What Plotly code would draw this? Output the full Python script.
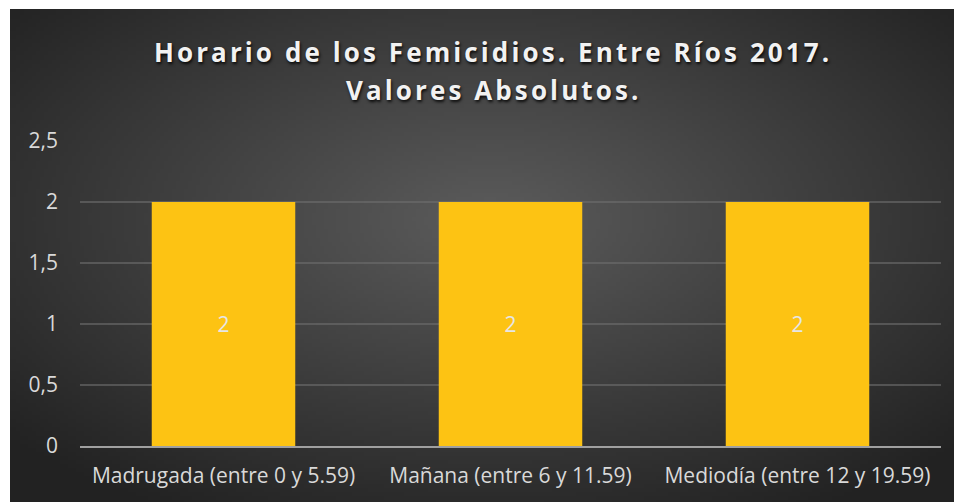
import base64
import struct
import zlib

import numpy as np
import plotly.graph_objects as go

# ---- data ----
categories = [
    "Madrugada (entre 0 y 5.59)",
    "Mañana (entre 6 y 11.59)",
    "Mediodía (entre 12 y 19.59)",
]
values = [2, 2, 2]
y_tickvals = [0, 0.5, 1, 1.5, 2, 2.5]
y_ticktext = ["0", "0,5", "1", "1,5", "2", "2,5"]
title_lines = ["Horario de los Femicidios. Entre Ríos 2017.", "Valores Absolutos."]


# ---- radial gradient background as PNG ----
def gradient_png(w, h):
    yy, xx = np.mgrid[0:h, 0:w].astype(float)
    cx, cy = (w - 1) / 2, (h - 1) * 0.42
    dx = (xx - cx) / (w / 2)
    dy = (yy - cy) / (h / 2)
    t = np.clip(np.sqrt(dx ** 2 + dy ** 2) / 1.35, 0, 1)
    c0 = np.array([0x5c, 0x5c, 0x5c], float)
    c1 = np.array([0x22, 0x22, 0x22], float)
    img = (c0[None, None, :] * (1 - t[..., None]) + c1[None, None, :] * t[..., None]).astype(np.uint8)
    raw = b"".join(b"\x00" + img[r].tobytes() for r in range(h))

    def chunk(tag, data):
        c = struct.pack(">I", len(data)) + tag + data
        return c + struct.pack(">I", zlib.crc32(tag + data) & 0xFFFFFFFF)

    png = b"\x89PNG\r\n\x1a\n"
    png += chunk(b"IHDR", struct.pack(">IIBBBBB", w, h, 8, 2, 0, 0, 0))
    png += chunk(b"IDAT", zlib.compress(raw, 9))
    png += chunk(b"IEND", b"")
    return "data:image/png;base64," + base64.b64encode(png).decode()


W, H = 962, 502
ml, mr, mt, mb = 72, 29, 133, 64
pw, ph = W - ml - mr, H - mt - mb
bg_left, bg_right, bg_top, bg_bottom = 2, 962, 1, 502
x0 = (bg_left - ml) / pw
x1 = (bg_right - ml) / pw
y0 = (H - mb - bg_top) / ph
y1 = (H - mb - bg_bottom) / ph


def paper_y(px):
    return (H - mb - px) / ph


fig = go.Figure()
fig.add_trace(
    go.Bar(
        x=categories,
        y=values,
        marker=dict(color="#FDC313", line=dict(width=0)),
        text=[str(v) for v in values],
        textposition="inside",
        insidetextanchor="middle",
        textfont=dict(family="Open Sans", size=21, color="#e6e6e6"),
        hoverinfo="x+y",
    )
)

title_font = dict(
    family="Open Sans",
    size=26,
    color="#f2f2f2",
    weight="bold",
    shadow="1px 2px 3px rgba(0,0,0,0.85)",
)
for line, ypx, xs in zip(title_lines, [44, 82], [-18, -17]):
    fig.add_annotation(
        text='<span style="letter-spacing:3.1px">' + line + "</span>",
        xref="paper",
        yref="paper",
        x=0.5,
        y=paper_y(ypx),
        xanchor="center",
        yanchor="middle",
        xshift=xs,
        showarrow=False,
        font=title_font,
    )

fig.update_layout(
    width=W,
    height=H,
    margin=dict(l=ml, r=mr, t=mt, b=mb),
    paper_bgcolor="white",
    plot_bgcolor="rgba(0,0,0,0)",
    bargap=0.5,
    showlegend=False,
    images=[
        dict(
            source=gradient_png(240, 124),
            xref="paper",
            yref="paper",
            x=x0,
            y=y0,
            sizex=x1 - x0,
            sizey=y0 - y1,
            xanchor="left",
            yanchor="top",
            sizing="stretch",
            layer="below",
        )
    ],
    xaxis=dict(
        showgrid=False,
        showline=True,
        linecolor="#a0a0a0",
        linewidth=2,
        ticks="",
        tickfont=dict(family="Open Sans", size=21, color="#d9d9d9"),
        ticklabelstandoff=10,
    ),
    yaxis=dict(
        range=[0, 2.5],
        tickvals=y_tickvals,
        ticktext=y_ticktext,
        showgrid=True,
        gridcolor="rgba(110,110,110,0.6)",
        gridwidth=1.5,
        zeroline=False,
        showline=False,
        ticks="",
        tickfont=dict(family="Open Sans", size=21, color="#d9d9d9"),
        ticklabelstandoff=21,
    ),
)

fig.write_html("out.html")
